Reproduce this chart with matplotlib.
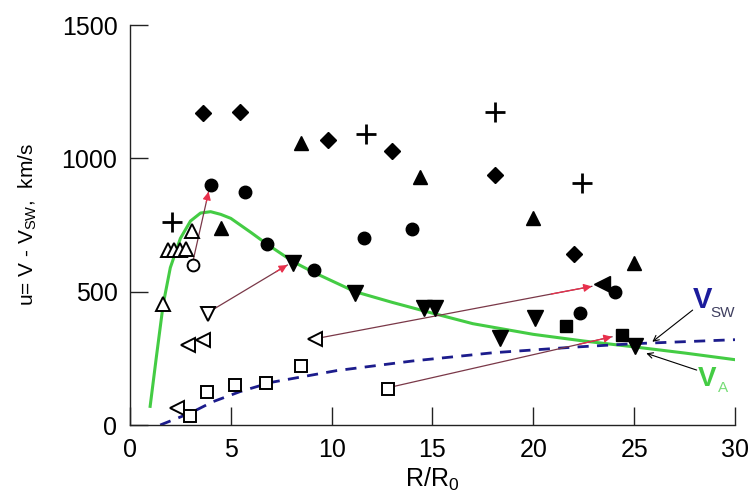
import matplotlib
matplotlib.use('Agg')
import matplotlib.pyplot as plt

plt.rcParams['font.family'] = ['Liberation Sans', 'DejaVu Sans']
plt.rcParams['mathtext.fontset'] = 'custom'
plt.rcParams['mathtext.rm'] = 'Liberation Sans'
plt.rcParams['mathtext.it'] = 'Liberation Sans:italic'

# filled symbols
dia_x = [3.6, 5.45, 9.8, 13.0, 18.1, 22.0]
dia_y = [1170, 1175, 1069, 1029, 937, 640]
plus_x = [2.1, 11.7, 18.1, 22.4]
plus_y = [760, 1091, 1173, 909]
tri_x = [4.5, 8.5, 14.4, 20.0, 25.0]
tri_y = [740, 1056, 931, 775, 606]
circ_x = [4.0, 5.7, 6.8, 9.12, 11.6, 14.0, 22.3, 24.05]
circ_y = [900, 873, 678, 582, 703, 735, 420, 500]
dtri_x = [8.1, 11.16, 14.6, 15.1, 18.34, 20.08, 25.04]
dtri_y = [609, 494, 440, 440, 325, 400, 296]
sq_x = [21.6, 24.4]
sq_y = [371, 337]
ltri_x = [23.4]
ltri_y = [528]

# open symbols
otri_x = [1.65, 1.9, 2.2, 2.5, 2.8, 3.09]
otri_y = [454, 657, 657, 657, 660, 729]
ocirc_x = [3.14]
ocirc_y = [600]
odtri_x = [3.85]
odtri_y = [416]
oltri_x = [2.31, 2.86, 3.63, 9.17]
oltri_y = [62, 300, 319, 322]
osq_x = [2.97, 3.8, 5.2, 6.75, 8.5, 12.8]
osq_y = [34, 125, 150, 158, 221, 135]

# V_A curve and V_sw curve
va_x = [1.0, 1.3, 1.65, 2.0, 2.5, 3.0, 3.5, 4.0, 4.5, 5.0, 6.0, 6.8, 8.1, 9.12, 11.16, 13.0, 14.87, 17.0, 20.0, 22.5, 25.0, 27.5, 30.0]
va_y = [70, 250, 454, 590, 700, 765, 795, 800, 790, 775, 722, 678, 612, 572, 500, 460, 422, 380, 340, 315, 293, 270, 245]
vsw_x = [1.5, 3.0, 4.1, 5.45, 7.0, 10.25, 14.0, 18.0, 22.0, 25.0, 30.0]
vsw_y = [0, 45, 87, 125, 160, 204, 240, 271, 292, 305, 320]

# arrows: start -> end
arr_x0 = [3.14, 4.05, 9.5, 13.1]
arr_y0 = [620, 430, 328, 145]
arr_x1 = [3.9, 7.8, 22.9, 23.9]
arr_y1 = [875, 600, 520, 331]

fig = plt.figure(figsize=(7.5, 4.95), dpi=100)
ax = fig.add_axes([0.1733, 0.1414, 0.8067, 0.808])

ax.plot(va_x, va_y, color='#44cc44', lw=2.2, zorder=2)
ax.plot(vsw_x, vsw_y, color='#1c1c8c', lw=2.0, ls=(0, (4, 3)), zorder=2)

for x0, y0, x1, y1 in zip(arr_x0, arr_y0, arr_x1, arr_y1):
    ax.plot([x0, x1], [y0, y1], color='#7a3848', lw=0.9, zorder=3)
    xm = x0 + 0.85 * (x1 - x0)
    ym = y0 + 0.85 * (y1 - y0)
    ax.annotate('', xy=(x1, y1), xytext=(xm, ym),
                arrowprops=dict(arrowstyle='-|>', color='#e8304c', lw=0.9,
                                mutation_scale=12, shrinkA=0, shrinkB=0), zorder=4)

k = dict(ls='none', zorder=5)
ax.plot(dia_x, dia_y, marker='D', ms=8.5, color='black', **k)
ax.plot(plus_x, plus_y, marker='+', ms=15, mew=2, color='black', **k)
ax.plot(tri_x, tri_y, marker='^', ms=10, color='black', **k)
ax.plot(circ_x, circ_y, marker='o', ms=9, color='black', **k)
ax.plot(dtri_x, dtri_y, marker='v', ms=11.5, color='black', **k)
ax.plot(sq_x, sq_y, marker='s', ms=8.5, color='black', **k)
ax.plot(ltri_x, ltri_y, marker='<', ms=11.5, color='black', **k)

ko = dict(ls='none', mfc='white', mec='black', mew=1.4, zorder=5)
ax.plot(otri_x, otri_y, marker='^', ms=10, **ko)
ax.plot(ocirc_x, ocirc_y, marker='o', ms=8.5, **ko)
ax.plot(odtri_x, odtri_y, marker='v', ms=10.5, **ko)
ax.plot(oltri_x, oltri_y, marker='<', ms=10.5, **ko)
ax.plot(osq_x, osq_y, marker='s', ms=8.5, **ko)

# curve labels
ax.annotate('', xy=(25.9, 312), xytext=(27.9, 431),
            arrowprops=dict(arrowstyle='->', color='black', lw=0.8, shrinkA=0, shrinkB=0))
ax.annotate('', xy=(25.6, 269), xytext=(28.1, 206),
            arrowprops=dict(arrowstyle='->', color='black', lw=0.8, shrinkA=0, shrinkB=0))
ax.text(28.4, 469, 'V', color='#1c1c9c', fontsize=21, fontweight='bold', ha='center', va='center')
ax.text(29.4, 420, 'SW', color='#404060', fontsize=11, ha='center', va='center', clip_on=False)
ax.text(28.6, 172, 'V', color='#44cc44', fontsize=20, fontweight='bold', ha='center', va='center')
ax.text(29.4, 140, 'A', color='#77dd77', fontsize=11, ha='center', va='center')

ax.set_xlim(0, 30)
ax.set_ylim(0, 1500)
ax.set_xticks([0, 5, 10, 15, 20, 25, 30])
ax.set_yticks([0, 500, 1000, 1500])
ax.spines['top'].set_visible(False)
ax.spines['right'].set_visible(False)
for s in ['left', 'bottom']:
    ax.spines[s].set_linewidth(1.0)
    ax.spines[s].set_color('#222222')
ax.tick_params(direction='in', length=13, width=1.0, labelsize=18, color='#222222')
ax.tick_params(axis='x', pad=9)
ax.tick_params(axis='y', pad=9)

ax.set_xlabel('R/R$_{\\rm 0}$', fontsize=18, labelpad=3)
ax.set_ylabel('u= V - V$_{\\rm SW}$,  km/s', fontsize=15)
ax.yaxis.set_label_coords(-0.15, 0.5)

fig.savefig('out.png', dpi=100)
